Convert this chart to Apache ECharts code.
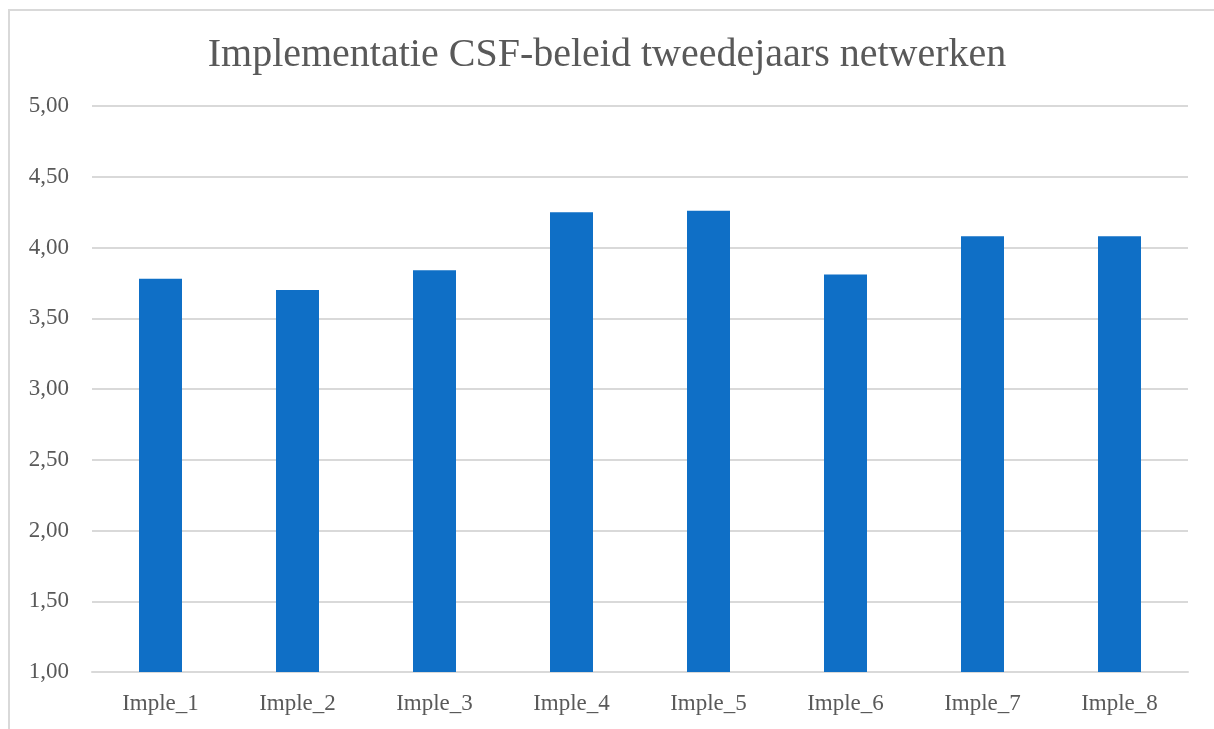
<!DOCTYPE html>
<html lang="nl">
<head>
    <meta charset="UTF-8">
    <title>Implementatie CSF-beleid tweedejaars netwerken</title>
    <script src="https://cdn.jsdelivr.net/npm/echarts@6/dist/echarts.min.js"></script>
    <style>
        body {
            margin: 0;
            padding: 0;
            background-color: #ffffff;
            overflow: hidden;
        }
        #chart {
            width: 1214px;
            height: 729px;
        }
        .frame {
            position: absolute;
            left: 8px;
            top: 9px;
            width: 1300px;
            height: 800px;
            border-top: 2px solid #d9d9d9;
            border-left: 2px solid #d9d9d9;
            pointer-events: none;
        }
    </style>
</head>
<body>
<div id="chart"></div>
<div class="frame"></div>

<script>
    // gegevens
    const categories = ['Imple_1', 'Imple_2', 'Imple_3', 'Imple_4', 'Imple_5', 'Imple_6', 'Imple_7', 'Imple_8'];
    const scores = [3.78, 3.70, 3.84, 4.25, 4.26, 3.81, 4.08, 4.08];

    const textColor = '#595959';
    const fontFamily = '"Liberation Serif", "DejaVu Serif", serif';

    const chart = echarts.init(document.getElementById('chart'));

    chart.setOption({
        animation: false,
        title: {
            text: 'Implementatie CSF-beleid tweedejaars netwerken',
            left: 'center',
            top: 30,
            textStyle: {
                color: textColor,
                fontFamily: fontFamily,
                fontWeight: 'normal',
                fontSize: 40
            }
        },
        grid: {
            left: 92,
            right: 26,
            top: 106,
            bottom: 57
        },
        xAxis: {
            type: 'category',
            data: categories,
            axisLine: { lineStyle: { color: '#d9d9d9', width: 2 } },
            axisTick: { show: false },
            axisLabel: {
                color: textColor,
                fontFamily: fontFamily,
                fontSize: 23,
                margin: 20
            }
        },
        yAxis: {
            type: 'value',
            min: 1,
            max: 5,
            interval: 0.5,
            axisLine: { show: false },
            axisTick: { show: false },
            splitLine: { lineStyle: { color: '#d9d9d9', width: 2 } },
            axisLabel: {
                color: textColor,
                fontFamily: fontFamily,
                fontSize: 23,
                margin: 23,
                formatter: v => v.toFixed(2).replace('.', ',')
            }
        },
        series: [{
            type: 'bar',
            data: scores,
            barWidth: 43,
            itemStyle: { color: '#0f6fc6' }
        }]
    });
</script>
</body>
</html>
